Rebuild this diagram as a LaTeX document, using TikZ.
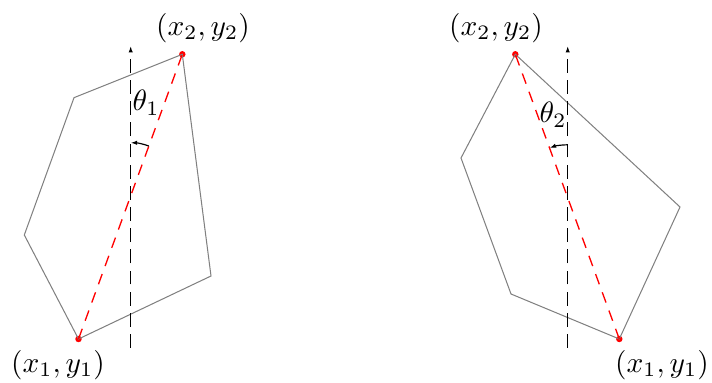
\documentclass[tikz,border=0pt]{standalone}
\usetikzlibrary{arrows.meta,calc}
\begin{document}
\begin{tikzpicture}[x=0.34pt,y=0.34pt,
  tip/.style={-{Latex[length=2.2pt,width=1.5pt]}},
  poly/.style={draw=gray,line width=0.35pt},
  axis/.style={draw=black,tip,dash pattern=on 4.7pt off 2.5pt,line width=0.45pt},
  diag/.style={draw=red,dash pattern=on 3.7pt off 2.9pt,line width=0.45pt},
  pt/.style={circle,fill=red,inner sep=0pt,minimum size=2.2pt},
  ang/.style={tip,line width=0.4pt},
  lbl/.style={inner sep=0pt}]
\useasboundingbox (0,0) rectangle (712,383);
% left polygon
\node[pt] (la) at (182.3,328.7) {};
\coordinate (lb) at (211,107);
\node[pt] (lc) at (78.5,44) {};
\coordinate (ld) at (24.3,148);
\coordinate (le) at (74,285.3);
\draw[poly] (la.center) -- (lb) -- (lc.center) -- (ld) -- (le) -- cycle;
\coordinate (lv0) at (130.7,35);
\coordinate (lv1) at (130.7,337);
\draw[axis] (lv0) -- (lv1);
\draw[diag] (lc.center) -- (la.center);
\coordinate (lo) at (130.7,187.2);
\draw[ang] ($(lo)+(70:53)$) arc[start angle=70,end angle=90,radius=53];
\node[lbl] (lt) at (146,280) {$\theta_1$};
\node[lbl] (lx2) at (203,355) {$(x_2,y_2)$};
\node[lbl] (lx1) at (58,18) {$(x_1,y_1)$};
% right polygon
\node[pt] (ra) at (515.3,328.7) {};
\coordinate (rb) at (680,176);
\node[pt] (rc) at (619.3,44) {};
\coordinate (rd) at (511,89);
\coordinate (re) at (461,225);
\draw[poly] (ra.center) -- (rb) -- (rc.center) -- (rd) -- (re) -- cycle;
\coordinate (rv0) at (567.7,35);
\coordinate (rv1) at (567.7,337);
\draw[axis] (rv0) -- (rv1);
\draw[diag] (rc.center) -- (ra.center);
\coordinate (ro) at (567.7,185.2);
\draw[ang] ($(ro)+(90:53)$) arc[start angle=90,end angle=110,radius=53];
\node[lbl] (rt) at (553,268) {$\theta_2$};
\node[lbl] (rx2) at (496,355) {$(x_2,y_2)$};
\node[lbl] (rx1) at (662,18) {$(x_1,y_1)$};
\end{tikzpicture}
\end{document}
